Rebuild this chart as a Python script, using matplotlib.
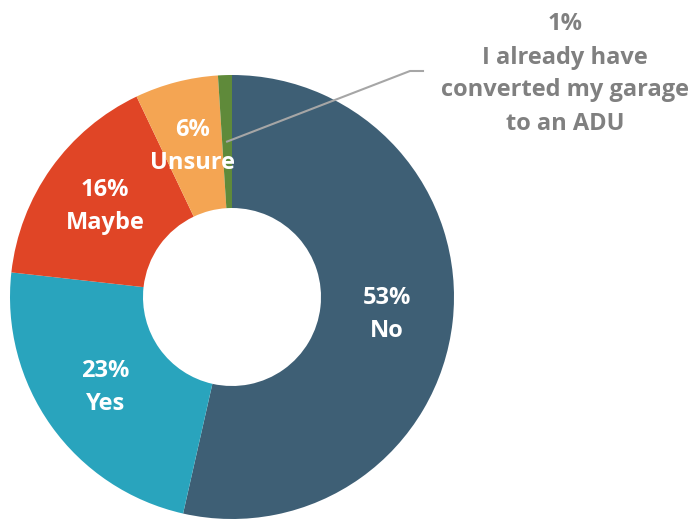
import numpy as np
import matplotlib.pyplot as plt

# survey answers, clockwise from the top
answers = ['No', 'Yes', 'Maybe', 'Unsure', 'I already have\nconverted my garage\nto an ADU']
shares = [53, 23, 16, 6, 1]
colors = ['#3e5f75', '#29a4bd', '#e04526', '#f4a553', '#5f8a3a']

plt.rcParams['font.family'] = ['Open Sans', 'DejaVu Sans']

fig = plt.figure(figsize=(6.94, 5.21), dpi=100)
ax = fig.add_axes([0, 0, 1, 1])

cx, cy = 232, 224
r_out, r_in = 222, 89

wedges, _ = ax.pie(shares, colors=colors, startangle=90, counterclock=False,
                   radius=r_out, center=(cx, cy),
                   wedgeprops=dict(width=r_out - r_in, linewidth=0))
ax.set_xlim(0, 694)
ax.set_ylim(0, 521)
ax.set_aspect('auto')
ax.axis('off')

r_mid = (r_out + r_in) / 2
for w, name, val in zip(wedges, answers, shares):
    ang = np.deg2rad((w.theta1 + w.theta2) / 2)
    x = cx + r_mid * np.cos(ang)
    y = cy + r_mid * np.sin(ang)
    if val > 2:
        ax.text(x, y, f'{val}%\n{name}', ha='center', va='center', color='white',
                fontsize=17, fontweight='bold', linespacing=1.5)
    else:
        # small slice gets a leader line out to the side
        ax.plot([x, 410, 423], [y, 450, 450], color='#a6a6a6', lw=1.5)
        ax.text(565, 447, f'{val}%\n{name}', ha='center', va='center', color='#808080',
                fontsize=17, fontweight='bold', linespacing=1.5)

fig.savefig('out.png', dpi=100)
